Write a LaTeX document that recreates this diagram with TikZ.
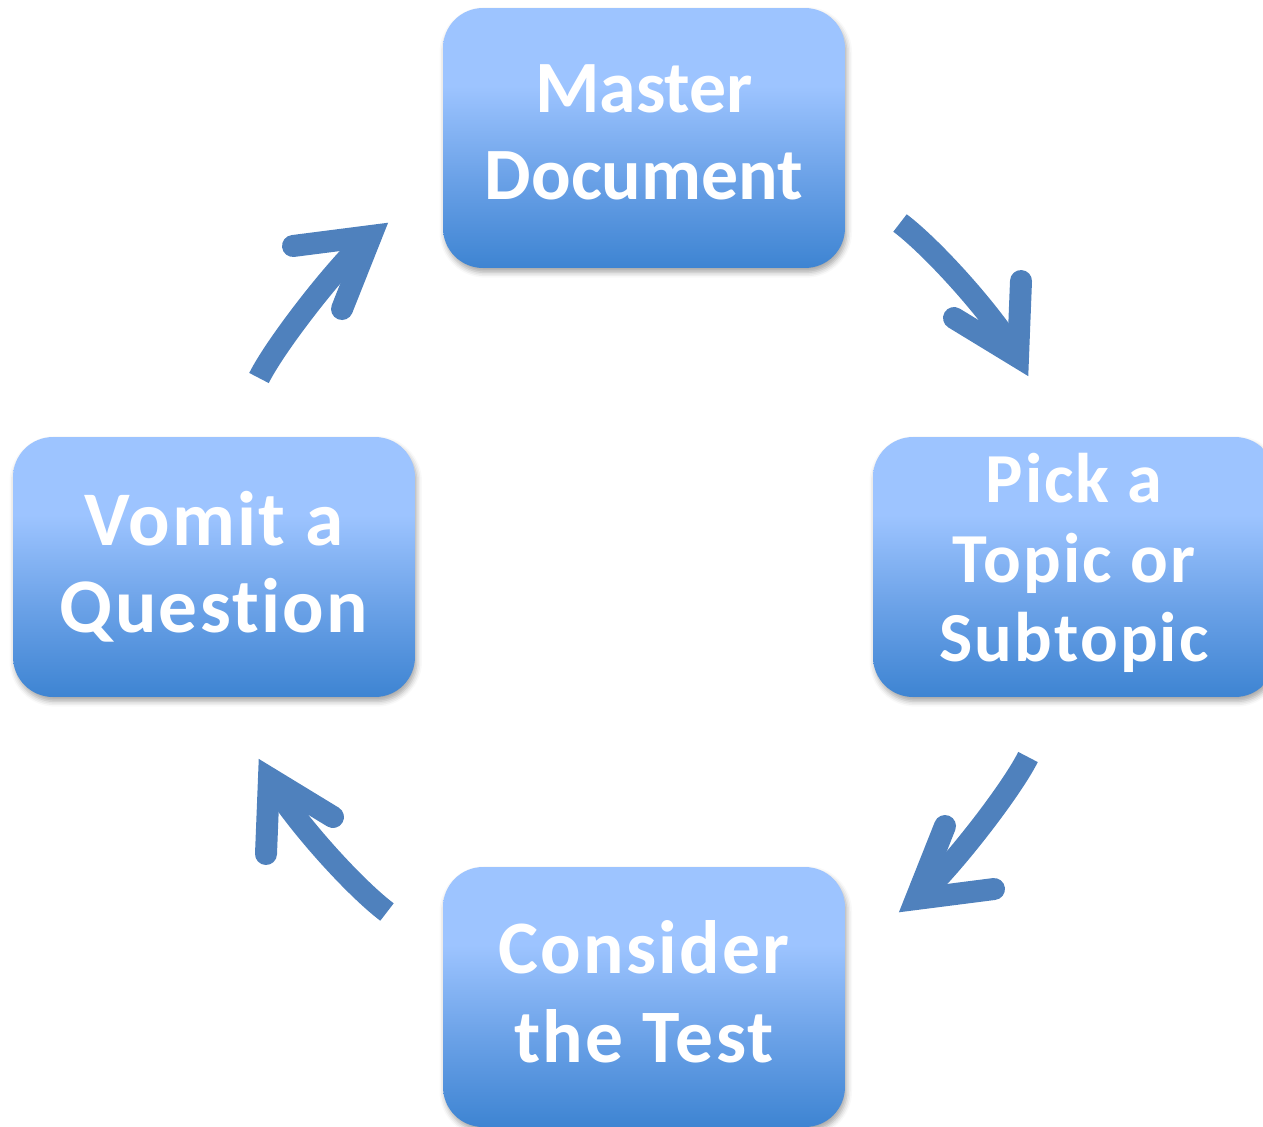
\documentclass[tikz,border=0pt]{standalone}
\usepackage{fontspec}
\setmainfont{Carlito}[Ligatures=NoCommon]
\usetikzlibrary{shadows.blur}
\definecolor{arrowblue}{RGB}{79,129,189}
\definecolor{boxtop}{RGB}{157,196,255}
\definecolor{boxmid}{RGB}{106,161,231}
\definecolor{boxbot}{RGB}{62,132,210}
\pgfdeclareverticalshading{boxshade}{100bp}{color(0bp)=(boxbot); color(25bp)=(boxbot); color(42bp)=(boxmid); color(60bp)=(boxtop); color(100bp)=(boxtop)}
\tikzset{
  stagebox/.style={rounded corners=0.8cm, minimum width=8.04cm, minimum height=5.2cm,
    inner sep=0pt, shading=boxshade, text=white, align=center, text depth=0pt,
    blur shadow={shadow xshift=1pt, shadow yshift=-2.5pt, shadow blur radius=3pt, shadow opacity=35}},
  toptext/.style={font=\fontsize{42pt}{49.9pt}\selectfont\bfseries\addfontfeature{Ligatures=NoCommon}},
  lefttext/.style={font=\fontsize{44pt}{49.3pt}\selectfont\bfseries\addfontfeature{LetterSpace=3,Ligatures=NoCommon}},
  bottomtext/.style={font=\fontsize{43pt}{50.4pt}\selectfont\bfseries\addfontfeature{LetterSpace=3,Ligatures=NoCommon}},
  righttext/.style={font=\fontsize{40pt}{45.35pt}\selectfont\bfseries\addfontfeature{LetterSpace=3,Ligatures=NoCommon}},
  shaft/.style={draw=arrowblue, line width=0.44cm, line cap=butt},
  head/.style={draw=arrowblue, line width=0.44cm, line cap=round, line join=miter},
}
\begin{document}
\begin{tikzpicture}[x=0.02cm, y=-0.02cm]
\useasboundingbox (0,0) rectangle (1263,1126);
\node[stagebox, toptext, text height=2.48cm] (master) at (644,138) {Master\\Document};
\node[stagebox, righttext, text height=3.8cm] (pick) at (1074,567) {Pick a\\Topic or\\Subtopic};
\node[stagebox, bottomtext, text height=2.6cm] (consider) at (644,997) {Consider\\the Test};
\node[stagebox, lefttext, text height=2.6cm] (vomit) at (214,567) {Vomit a\\Question};
% arrow: master -> pick
\coordinate (a1s) at (900,223);
\coordinate (a1v) at (1018,357);
\coordinate (a1l) at (1021,281);
\coordinate (a1r) at (954,318);
\draw[shaft] (a1s) .. controls (932,247) and (993,314) .. (a1v);
\draw[head] (a1l) -- (a1v) -- (a1r);
% arrow: pick -> consider
\coordinate (a2s) at (1028,757);
\coordinate (a2v) at (916,899);
\coordinate (a2l) at (994,889);
\coordinate (a2r) at (945,826);
\draw[shaft] (a2s) .. controls (1010,793) and (943,878) .. (a2v);
\draw[head] (a2l) -- (a2v) -- (a2r);
% arrow: consider -> vomit
\coordinate (a3s) at (387,912);
\coordinate (a3v) at (269,778);
\coordinate (a3l) at (266,854);
\coordinate (a3r) at (333,817);
\draw[shaft] (a3s) .. controls (355,888) and (294,821) .. (a3v);
\draw[head] (a3l) -- (a3v) -- (a3r);
% arrow: vomit -> master
\coordinate (a4s) at (259,378);
\coordinate (a4v) at (371,236);
\coordinate (a4l) at (293,246);
\coordinate (a4r) at (342,309);
\draw[shaft] (a4s) .. controls (277,342) and (344,257) .. (a4v);
\draw[head] (a4l) -- (a4v) -- (a4r);
\end{tikzpicture}
\end{document}
